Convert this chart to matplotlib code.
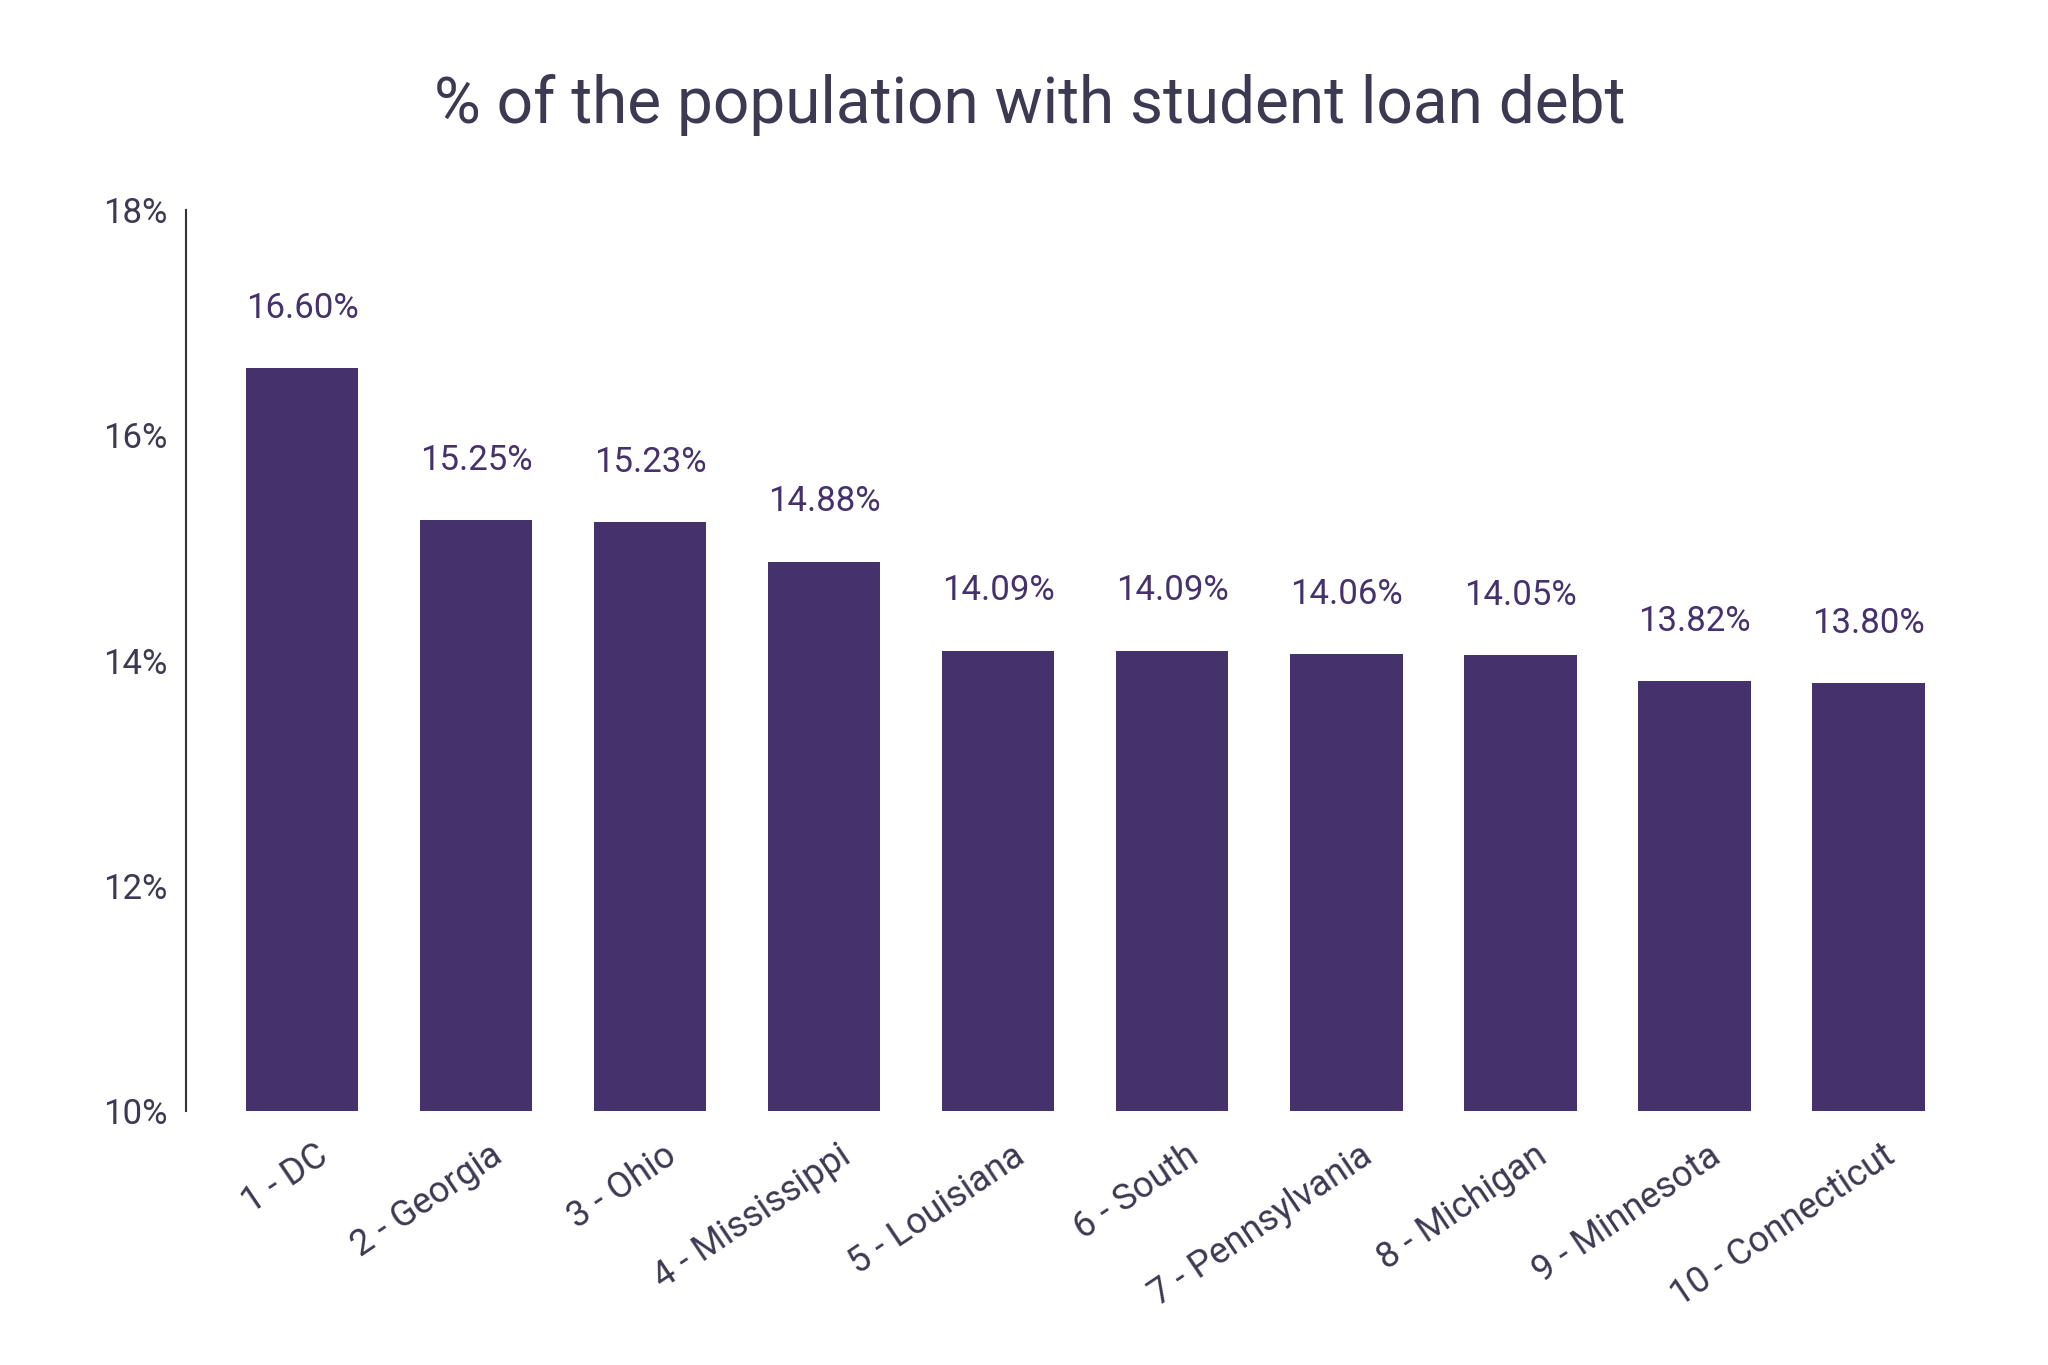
import matplotlib
matplotlib.use('Agg')
import matplotlib.pyplot as plt
from matplotlib.ticker import FuncFormatter

# Data
labels = ['1 - DC', '2 - Georgia', '3 - Ohio', '4 - Mississippi', '5 - Louisiana',
          '6 - South', '7 - Pennsylvania', '8 - Michigan', '9 - Minnesota', '10 - Connecticut']
values = [16.60, 15.25, 15.23, 14.88, 14.09, 14.09, 14.06, 14.05, 13.82, 13.80]
yticks = [10, 12, 14, 16, 18]

bar_color = '#45316b'
text_color = '#3c3a52'

plt.rcParams['font.family'] = ['Roboto', 'DejaVu Sans']

fig = plt.figure(figsize=(20.48, 13.65), dpi=100)
ax = fig.add_axes([0.0908, 0.186, 0.859, 0.66])

x = list(range(len(labels)))
ax.bar(x, values, width=0.645, color=bar_color, bottom=0)

# value labels above the bars
for xi, v in zip(x, values):
    ax.annotate(f'{v:.2f}%', xy=(xi, v), xytext=(0, 43), textcoords='offset points',
                ha='center', va='center', fontsize=25, color='#45316b')

# rotated category labels, drawn by hand so they can sit a bit right of the tick
for xi, lab in zip(x, labels):
    ax.annotate(lab, xy=(xi, 0), xycoords=('data', 'axes fraction'),
                xytext=(9, -19), textcoords='offset points',
                rotation=34, rotation_mode='anchor', ha='right', va='top',
                fontsize=26, color=text_color)

ax.set_ylim(10, 18)
ax.set_xlim(-0.667, 9.44)
ax.set_yticks(yticks)
ax.yaxis.set_major_formatter(FuncFormatter(lambda v, p: f'{v:.0f}%'))
ax.set_xticks([])

for side in ['top', 'right', 'bottom']:
    ax.spines[side].set_visible(False)
ax.spines['left'].set_color('#333333')
ax.spines['left'].set_linewidth(1.5)
ax.tick_params(axis='y', length=0, pad=13, labelsize=25, labelcolor=text_color)

fig.suptitle('% of the population with student loan debt', x=0.503, y=0.923,
             fontsize=46, color=text_color, va='center')

fig.savefig('out.png', dpi=100, facecolor='white')
